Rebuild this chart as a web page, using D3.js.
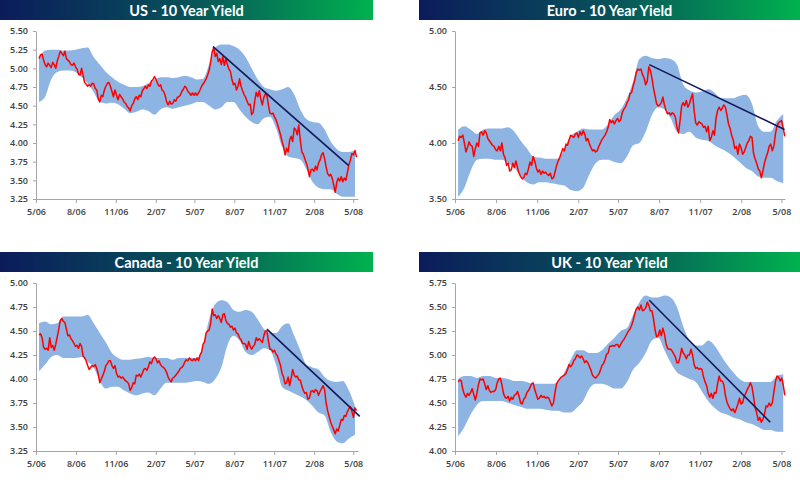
<!DOCTYPE html>
<html><head><meta charset="utf-8">
<script src="https://cdn.jsdelivr.net/npm/d3@7"></script>
<style>body{margin:0;background:#fff}svg{display:block}</style>
</head><body>
<svg id="c" width="800" height="483"></svg>
<script>
// ---------- DATA ----------
const titles = ["US - 10 Year Yield", "Euro - 10 Year Yield", "Canada - 10 Year Yield", "UK - 10 Year Yield"];
const tickLabels = ["5/06","8/06","11/06","2/07","5/07","8/07","11/07","2/08","5/08"];
const tickDates = ["2006-05-01","2006-08-01","2006-11-01","2007-02-01","2007-05-01","2007-08-01","2007-11-01","2008-02-01","2008-05-01"];
const axisStart = "2006-05-01";
const seriesStart = "2006-05-08"; // yields sampled every 3.5 days, bands every 14 days
const usTicks = [3.25,3.50,3.75,4.00,4.25,4.50,4.75,5.00,5.25,5.50];
const euroTicks = [3.50,4.00,4.50,5.00];
const canadaTicks = [3.25,3.50,3.75,4.00,4.25,4.50,4.75,5.00];
const ukTicks = [4.00,4.25,4.50,4.75,5.00,5.25,5.50,5.75];

const usYield = [5.13,5.18,5.19,5.11,5.05,5.02,5.07,5.04,5.01,5.08, 5.05,5.00,5.10,5.16,5.23,5.20,5.17,5.23,5.13,5.11,
  5.09,5.05,5.04,5.07,5.02,4.99,4.92,4.91,5.00,4.91, 4.81,4.79,4.76,4.78,4.76,4.80,4.79,4.73,4.71,4.59,
  4.55,4.64,4.62,4.71,4.76,4.80,4.81,4.76,4.69,4.62, 4.71,4.64,4.58,4.65,4.62,4.59,4.55,4.53,4.49,4.47,
  4.43,4.50,4.53,4.59,4.62,4.58,4.64,4.62,4.70,4.73, 4.76,4.73,4.78,4.76,4.83,4.85,4.89,4.85,4.80,4.76,
  4.78,4.71,4.69,4.64,4.55,4.51,4.56,4.52,4.53,4.58, 4.56,4.61,4.62,4.64,4.69,4.72,4.76,4.74,4.69,4.67,
  4.64,4.67,4.64,4.67,4.64,4.67,
  4.71,4.76,4.79,4.82,4.86,4.91,4.97,5.09,5.22,5.28, 5.16,5.20,5.09,5.13,5.05,5.16,5.04,5.13,5.05,4.99,
  4.96,4.85,4.78,4.80,4.71,4.76,4.86,4.76,4.70,4.65, 4.61,4.56,4.51,4.52,4.38,4.41,4.56,4.68,4.62,4.70,
  4.59,4.51,4.61,4.66,4.64,4.51,4.40,4.39,4.40,4.35, 4.31,4.25,4.18,4.11,4.02,3.95,3.84,3.93,3.88,4.04,
  4.09,4.02,4.20,4.18,4.11,4.24,4.04,3.88,3.85,3.79, 3.73,3.66,3.55,3.64,3.65,3.62,3.69,3.64,3.73,3.77,
  3.84,3.87,3.79,3.68,3.59,3.56,3.58,3.53,3.44,3.34, 3.47,3.53,3.49,3.55,3.48,3.53,3.50,3.60,3.71,3.77,
  3.86,3.84,3.90,3.81];
const usUpper = [5.12,5.24,5.25,5.25,5.24,5.24,5.25,5.27,5.28,5.15, 5.05,4.95,4.88,4.82,4.78,4.75,4.75,4.76,4.80,4.85,
  4.88,4.88,4.87,4.88,4.90,4.88,4.85,4.86,5.05,5.28, 5.32,5.32,5.30,5.25,5.15,5.00,4.85,4.75,4.72,4.70,
  4.72,4.75,4.65,4.45,4.32,4.28,4.27,4.18,4.02,3.92, 3.88,3.88,3.90];
const usLower = [4.55,4.62,4.85,4.95,4.97,4.97,4.95,4.88,4.80,4.68, 4.55,4.53,4.54,4.52,4.46,4.40,4.42,4.45,4.43,4.38,
  4.45,4.48,4.46,4.48,4.50,4.52,4.55,4.55,4.50,4.45, 4.48,4.55,4.55,4.45,4.35,4.28,4.25,4.33,4.35,4.20,
  3.95,3.82,3.80,3.78,3.65,3.48,3.40,3.38,3.38,3.32, 3.28,3.28,3.28];
const usTrend = [["2007-06-13",5.29],["2008-04-20",3.70]];

const euroYield = [4.02,4.06,4.05,4.07,4.00,3.92,3.96,4.01,3.98,3.97, 3.88,3.95,4.00,3.97,4.09,4.10,4.07,4.11,4.09,4.04,
  4.02,4.00,3.98,3.97,3.94,3.93,3.97,3.93,4.00,3.90, 3.87,3.80,3.82,3.75,3.76,3.82,3.78,3.84,3.78,3.73,
  3.70,3.68,3.69,3.73,3.72,3.77,3.83,3.80,3.88,3.84, 3.78,3.74,3.76,3.72,3.75,3.73,3.74,3.72,3.71,3.73,
  3.68,3.69,3.74,3.80,3.84,3.87,3.91,3.95,3.93,3.99, 3.98,4.03,4.07,4.06,4.05,4.08,4.09,4.05,4.10,4.07,
  4.11,4.08,4.02,4.04,3.99,3.96,3.93,3.94,3.92,3.93, 3.97,4.00,4.03,4.05,4.07,4.10,4.14,4.21,4.18,4.20,
  4.17,4.20,4.22,
  4.19,4.21,4.27,4.30,4.32,4.36,4.38,4.44,4.45,4.51, 4.56,4.63,4.66,4.65,4.66,4.61,4.58,4.52,4.55,4.68,
  4.65,4.58,4.49,4.42,4.35,4.33,4.34,4.36,4.41,4.34, 4.29,4.26,4.27,4.25,4.27,4.26,4.23,4.14,4.09,4.20,
  4.33,4.36,4.33,4.38,4.32,4.35,4.40,4.44,4.29,4.18, 4.16,4.19,4.18,4.17,4.14,4.15,4.10,4.15,4.02,4.05,
  4.11,4.07,4.22,4.29,4.32,4.29,4.31,4.34,4.32,4.25, 4.17,4.13,4.07,4.03,3.95,3.97,3.90,3.99,3.96,3.90,
  3.92,3.96,4.00,4.02,4.06,4.05,3.91,3.86,3.82,3.77, 3.75,3.69,3.75,3.82,3.87,3.91,3.97,3.99,3.93,3.97,
  4.08,4.15,4.18,4.19,4.20,4.13,4.06];
const euroUpper = [4.12,4.15,4.12,4.08,4.12,4.13,4.13,4.13,4.14,4.10, 4.02,3.95,3.88,3.87,3.86,3.86,3.86,3.95,4.06,4.10,
  4.13,4.12,4.12,4.12,4.17,4.25,4.30,4.40,4.55,4.75, 4.78,4.76,4.75,4.76,4.75,4.70,4.52,4.47,4.45,4.46,
  4.48,4.45,4.40,4.40,4.40,4.42,4.43,4.35,4.15,4.10, 4.10,4.20,4.26];
const euroLower = [3.52,3.60,3.75,3.85,3.86,3.86,3.85,3.85,3.82,3.78, 3.70,3.65,3.63,3.65,3.65,3.64,3.63,3.62,3.58,3.57,
  3.60,3.72,3.82,3.85,3.85,3.83,3.82,3.88,3.98,4.00, 4.10,4.25,4.32,4.30,4.22,4.10,4.08,4.10,4.05,4.03,
  4.02,3.98,3.95,3.92,3.88,3.83,3.78,3.75,3.70,3.69, 3.69,3.66,3.64];
const euroTrend = [["2007-07-10",4.70],["2008-05-08",4.12]];

const canadaYield = [4.46,4.47,4.43,4.33,4.31,4.32,4.30,4.43,4.33,4.35, 4.30,4.36,4.44,4.52,4.61,4.63,4.60,4.59,4.52,4.45,
  4.46,4.42,4.40,4.37,4.34,4.35,4.32,4.37,4.34,4.24, 4.22,4.19,4.14,4.10,4.12,4.14,4.13,4.15,4.11,4.05,
  3.96,4.00,4.04,4.08,4.14,4.16,4.19,4.19,4.14,4.11, 4.14,4.06,4.02,4.03,4.01,4.02,4.00,3.98,3.97,3.95,
  3.88,3.91,3.96,3.95,4.04,4.03,4.05,4.02,4.06,4.10, 4.11,4.09,4.13,4.18,4.16,4.21,4.23,4.21,4.17,4.19,
  4.15,4.13,4.12,4.10,4.07,4.02,3.99,3.97,4.01,4.02, 4.04,4.06,4.08,4.11,4.12,4.14,4.18,4.20,4.19,4.22,
  4.20,4.19,4.21,4.19,4.22,4.19,
  4.25,4.28,4.36,4.39,4.48,4.50,4.51,4.58,4.73,4.66, 4.67,4.63,4.66,4.63,4.59,4.67,4.68,4.61,4.58,4.57,
  4.54,4.55,4.51,4.53,4.48,4.47,4.43,4.41,4.37,4.37, 4.36,4.31,4.39,4.34,4.31,4.34,4.36,4.43,4.40,4.42,
  4.40,4.38,4.45,4.50,4.50,4.40,4.31,4.31,4.28,4.30, 4.26,4.24,4.19,4.14,4.06,4.02,3.95,3.96,4.02,3.93,
  4.01,4.10,4.04,4.02,4.03,3.99,3.99,3.93,3.88,3.85, 3.86,3.79,3.80,3.87,3.88,3.86,3.89,3.88,3.83,3.87,
  3.90,3.93,3.89,3.75,3.67,3.61,3.55,3.51,3.47,3.43, 3.48,3.46,3.52,3.58,3.57,3.62,3.61,3.66,3.69,3.71,
  3.66,3.60,3.70,3.67];
const canadaUpper = [4.58,4.60,4.57,4.58,4.65,4.65,4.65,4.65,4.67,4.58, 4.48,4.38,4.27,4.22,4.20,4.20,4.21,4.22,4.23,4.22,
  4.22,4.22,4.20,4.22,4.22,4.22,4.22,4.35,4.62,4.78, 4.82,4.80,4.72,4.70,4.72,4.70,4.62,4.52,4.48,4.48,
  4.55,4.58,4.45,4.30,4.15,4.12,4.10,4.02,3.98,3.97, 3.98,3.88,3.72];
const canadaLower = [4.08,4.15,4.23,4.25,4.22,4.22,4.22,4.23,4.18,4.12, 3.98,3.90,3.92,3.92,3.88,3.85,3.83,3.85,3.86,3.83,
  3.90,3.96,3.96,3.96,3.96,3.97,3.98,3.97,3.95,4.00, 4.12,4.35,4.45,4.40,4.28,4.25,4.28,4.32,4.30,4.15,
  3.92,3.88,3.85,3.82,3.78,3.72,3.65,3.62,3.45,3.35, 3.33,3.38,3.42];
const canadaTrend = [["2007-10-15",4.52],["2008-05-16",3.61]];

const ukYield = [4.72,4.74,4.73,4.64,4.59,4.56,4.60,4.58,4.61,4.65, 4.59,4.53,4.60,4.69,4.75,4.74,4.75,4.70,4.64,4.68,
  4.63,4.61,4.62,4.62,4.64,4.71,4.75,4.76,4.69,4.60, 4.56,4.55,4.57,4.52,4.56,4.54,4.58,4.59,4.62,4.57,
  4.50,4.49,4.54,4.56,4.61,4.63,4.66,4.70,4.71,4.64, 4.59,4.54,4.55,4.58,4.56,4.57,4.55,4.56,4.55,4.51,
  4.47,4.50,4.61,4.70,4.73,4.75,4.77,4.78,4.79,4.81, 4.85,4.90,4.88,4.90,4.94,4.96,5.00,4.99,4.97,4.99,
  4.96,4.92,4.94,4.92,4.88,4.84,4.79,4.77,4.76,4.78, 4.80,4.84,4.89,4.91,4.95,5.01,5.02,5.09,5.09,5.10,
  5.09,5.11,5.11,
  5.08,5.11,5.14,5.16,5.19,5.22,5.25,5.27,5.31,5.36, 5.43,5.48,5.50,5.47,5.52,5.46,5.47,5.49,5.55,5.52,
  5.46,5.46,5.38,5.26,5.19,5.20,5.26,5.20,5.28,5.22, 5.12,5.07,5.06,5.06,5.04,5.01,4.98,4.92,4.92,4.98,
  5.07,5.02,5.00,4.96,5.00,5.00,5.06,5.00,4.90,4.86, 4.87,4.85,4.86,4.85,4.77,4.72,4.68,4.60,4.56,4.60,
  4.55,4.61,4.60,4.70,4.78,4.73,4.73,4.69,4.58,4.51, 4.47,4.44,4.42,4.44,4.40,4.44,4.49,4.55,4.49,4.50,
  4.57,4.60,4.64,4.67,4.71,4.67,4.57,4.45,4.40,4.32, 4.35,4.30,4.33,4.38,4.47,4.46,4.50,4.47,4.50,4.61,
  4.72,4.78,4.77,4.73,4.76,4.69,4.58];
const ukUpper = [4.75,4.78,4.78,4.76,4.78,4.78,4.76,4.76,4.75,4.73, 4.73,4.72,4.70,4.70,4.70,4.70,4.72,4.82,4.95,5.05,
  5.05,5.02,5.02,5.05,5.12,5.18,5.25,5.28,5.42,5.55, 5.62,5.60,5.60,5.62,5.60,5.50,5.30,5.15,5.10,5.10,
  5.15,5.10,5.00,4.90,4.82,4.75,4.72,4.72,4.72,4.72, 4.72,4.78,4.80];
const ukLower = [4.15,4.25,4.38,4.48,4.52,4.52,4.52,4.52,4.50,4.48, 4.46,4.44,4.44,4.44,4.43,4.42,4.42,4.40,4.40,4.45,
  4.52,4.65,4.70,4.70,4.68,4.65,4.65,4.72,4.85,4.92, 5.02,5.15,5.18,5.05,4.92,4.82,4.78,4.75,4.72,4.62,
  4.52,4.45,4.40,4.38,4.35,4.33,4.30,4.28,4.25,4.22, 4.22,4.20,4.20];
const ukTrend = [["2007-07-10",5.57],["2008-04-06",4.30]];

// ---------- LAYOUT ----------
const panels = [
  {title: titles[0], yv: usYield, up: usUpper, lo: usLower, trend: usTrend, ticks: usTicks,
   xr: [36, 358], yr: [31, 199], end: "2008-05-12", bar: [0, 0, 373, 20]},
  {title: titles[1], yv: euroYield, up: euroUpper, lo: euroLower, trend: euroTrend, ticks: euroTicks,
   xr: [455, 785], yr: [31, 199], end: "2008-05-09", bar: [419, 0, 381, 20]},
  {title: titles[2], yv: canadaYield, up: canadaUpper, lo: canadaLower, trend: canadaTrend, ticks: canadaTicks,
   xr: [36, 358], yr: [283, 451], end: "2008-05-12", bar: [0, 252, 373, 20]},
  {title: titles[3], yv: ukYield, up: ukUpper, lo: ukLower, trend: ukTrend, ticks: ukTicks,
   xr: [455, 785], yr: [283, 451], end: "2008-05-09", bar: [419, 252, 381, 20]}
];

const parse = d3.timeParse("%Y-%m-%d");
const svg = d3.select("#c");
const defs = svg.append("defs");
const grad = defs.append("linearGradient").attr("id", "tg").attr("x1", "0").attr("x2", "1").attr("y1", "0").attr("y2", "0");
grad.append("stop").attr("offset", "0").attr("stop-color", "#0b1c5b");
grad.append("stop").attr("offset", "0.5").attr("stop-color", "#08515a");
grad.append("stop").attr("offset", "1").attr("stop-color", "#00b24f");

const s0 = parse(seriesStart);

panels.forEach(p => {
  const g = svg.append("g");
  g.append("rect").attr("x", p.bar[0]).attr("y", p.bar[1]).attr("width", p.bar[2]).attr("height", p.bar[3])
    .attr("fill", "url(#tg)");
  g.append("text").attr("x", p.bar[0] + p.bar[2] / 2).attr("y", p.bar[1] + 15.5)
    .attr("text-anchor", "middle").attr("fill", "#fff")
    .attr("font-family", "Lato, 'Open Sans', sans-serif").attr("font-weight", "bold").attr("font-size", 14.5)
    .text(p.title);

  const x = d3.scaleTime().domain([parse(axisStart), parse(p.end)]).range(p.xr);
  const y = d3.scaleLinear().domain([p.ticks[0], p.ticks[p.ticks.length - 1]]).range([p.yr[1], p.yr[0]]);

  const band = p.up.map((u, j) => ({d: d3.timeHour.offset(s0, 14 * 24 * j), u: u, l: p.lo[j]}));
  g.append("path").datum(band)
    .attr("fill", "#8db4e2")
    .attr("d", d3.area().x(d => x(d.d)).y0(d => y(d.l)).y1(d => y(d.u)).curve(d3.curveMonotoneX));

  const line = p.yv.map((v, k) => ({d: d3.timeHour.offset(s0, 84 * k), v: v}));
  g.append("path").datum(line)
    .attr("fill", "none").attr("stroke", "#ff0000").attr("stroke-width", 1.5).attr("stroke-linejoin", "round")
    .attr("d", d3.line().x(d => x(d.d)).y(d => y(d.v)));

  g.append("path").datum(p.trend.map(t => ({d: parse(t[0]), v: t[1]})))
    .attr("fill", "none").attr("stroke", "#13195a").attr("stroke-width", 1.6)
    .attr("d", d3.line().x(d => x(d.d)).y(d => y(d.v)));

  const xa = g.append("g").attr("transform", `translate(0,${p.yr[1]})`)
    .call(d3.axisBottom(x).tickValues(tickDates.map(parse)).tickFormat((d, i) => tickLabels[i])
      .tickSizeInner(4).tickSizeOuter(0).tickPadding(6));
  const ya = g.append("g").attr("transform", `translate(${p.xr[0]},0)`)
    .call(d3.axisLeft(y).tickValues(p.ticks).tickFormat(d3.format(".2f"))
      .tickSizeInner(3).tickSizeOuter(0).tickPadding(5));
  [xa, ya].forEach(a => {
    a.select(".domain").attr("stroke", "#a6a6a6");
    a.selectAll(".tick line").attr("stroke", "#a6a6a6");
    a.selectAll("text").attr("fill", "#404040").attr("font-size", 9)
      .attr("font-family", "'Open Sans', sans-serif").attr("font-weight", 600);
  });
});
</script>
</body></html>
